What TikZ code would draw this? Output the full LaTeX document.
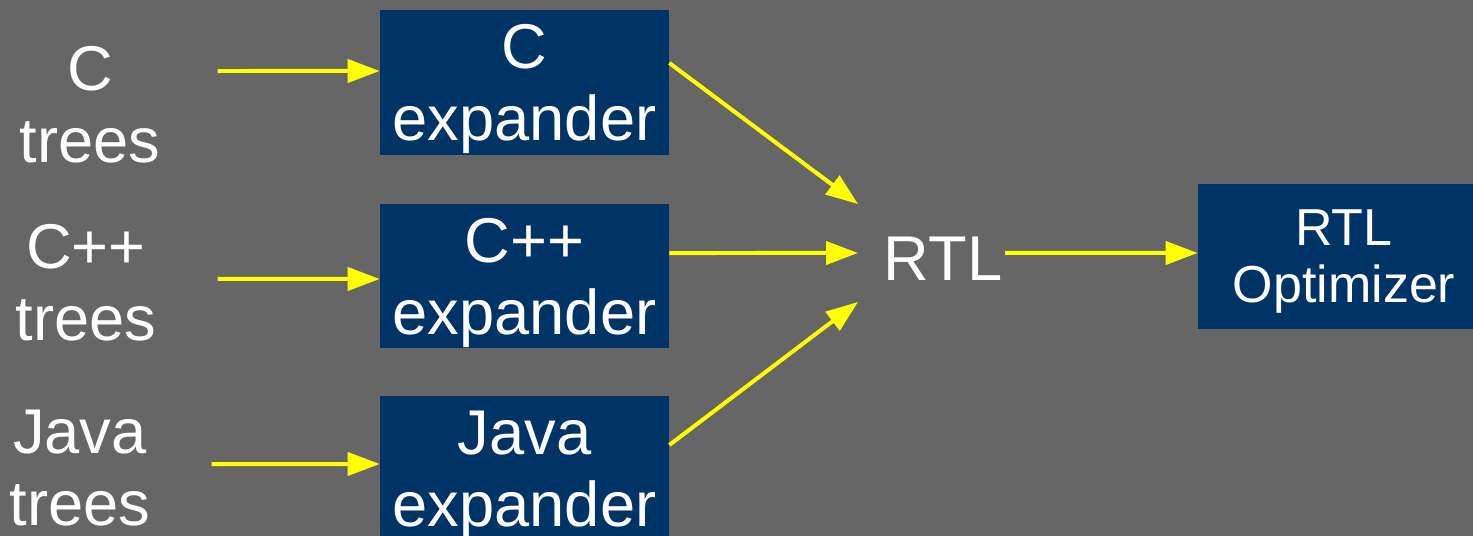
\documentclass[tikz,border=0pt]{standalone}
\usepackage{fontspec}
\setmainfont{Liberation Sans}
\usetikzlibrary{arrows.meta}
\begin{document}
\begin{tikzpicture}
% TikZ flow of the tree expanders into RTL
\def\pxsz{0.02cm}
\providecommand{\flowLineWidth}{0.08cm}
\providecommand{\bigFont}{\fontsize{36pt}{41pt}\selectfont}
\providecommand{\optFont}{\fontsize{29.6pt}{32.4pt}\selectfont}
\begin{scope}[x=\pxsz, y=-\pxsz,
  expbox/.style={fill={rgb,1:red,0.000;green,0.200;blue,0.400}, text=white, inner sep=0pt,
    minimum width=5.78cm, minimum height=2.9cm, align=center, text depth=-0.06cm, font=\bigFont},
  srclbl/.style={text=white, inner sep=0pt, align=center, text depth=0pt, font=\bigFont},
  flow/.style={draw={rgb,1:red,1.000;green,1.000;blue,0.000}, line width=\flowLineWidth,
    -{Triangle[length=0.64cm,width=0.46cm]}}]
  % Frame and background
  \useasboundingbox (0,0) rectangle (1473,536);
  \clip (0,0) rectangle (1473,536);
  \fill[fill={rgb,1:red,0.400;green,0.400;blue,0.400}] (0,0) rectangle (1473,536);
  % Source trees
  \node[srclbl] (ctrees) at (90,104) {C\\trees};
  \node[srclbl] (cpptrees) at (86,282) {C++\\trees};
  \node[srclbl] (javatrees) at (80,468) {Java\\trees};
  % Expanders
  \node[expbox] (cexp) at (524.5,82.5) {C\\expander};
  \node[expbox] (cppexp) at (524.5,276) {C++\\expander};
  \node[expbox] (javaexp) at (524.5,468.5) {Java\\expander};
  % RTL and optimizer
  \node[srclbl] (rtl) at (943,258.5) {RTL};
  \node[expbox, minimum width=5.84cm, text depth=0pt, font=\optFont] (rtlopt) at (1344,256.5) {RTL\\Optimizer};
  % Trees into expanders
  \draw[flow] ([xshift=1.14cm,yshift=0.66cm]ctrees.east) -- ([yshift=0.23cm]cexp.west);
  \draw[flow] ([xshift=1.22cm,yshift=0.06cm]cpptrees.east) -- ([yshift=-0.06cm]cppexp.west);
  \draw[flow] ([xshift=1.22cm,yshift=0.08cm]javatrees.east) -- ([yshift=0.09cm]javaexp.west);
  % Expanders into RTL
  \draw[flow] ([yshift=0.39cm]cexp.east) -- ([xshift=-0.51cm,yshift=1.09cm]rtl.west);
  \draw[flow] ([yshift=0.46cm]cppexp.east) -- ([xshift=-0.51cm,yshift=0.11cm]rtl.west);
  \draw[flow] ([yshift=0.47cm]javaexp.east) -- ([xshift=-0.51cm,yshift=-0.87cm]rtl.west);
  % RTL into optimizer
  \draw[flow] ([xshift=0.05cm,yshift=0.11cm]rtl.east) -- ([yshift=0.07cm]rtlopt.west);
\end{scope}
\end{tikzpicture}
\end{document}
